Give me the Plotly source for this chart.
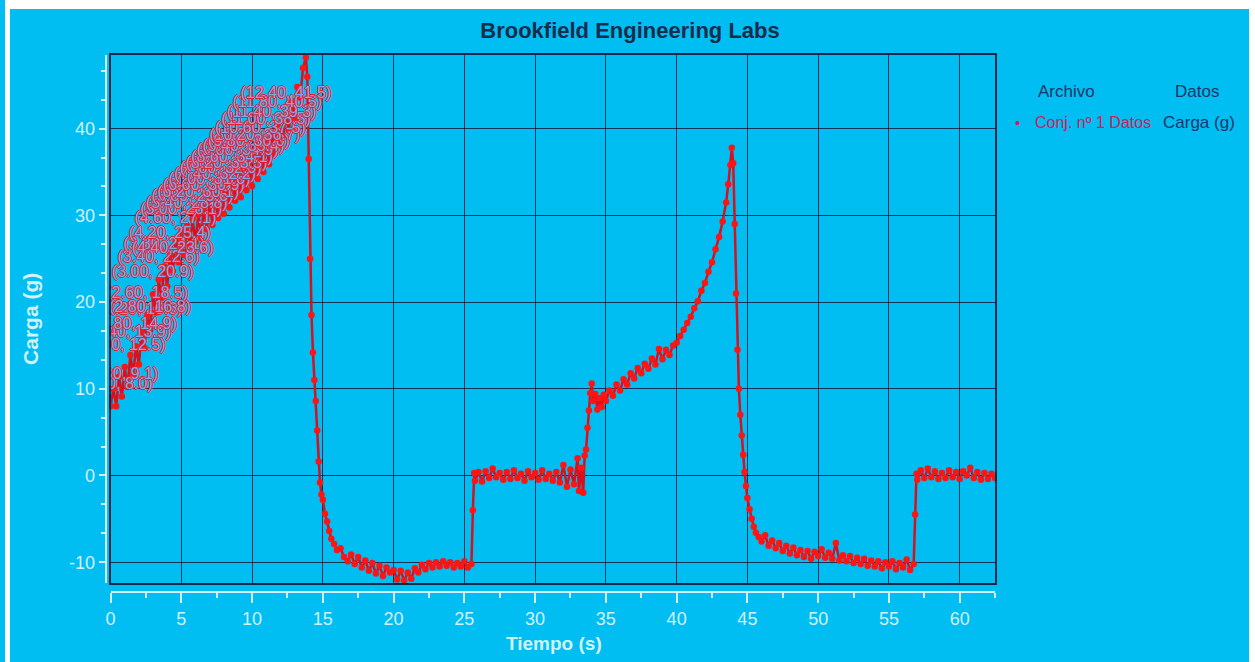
import plotly.graph_objects as go

# ---- Carga (g) frente a Tiempo (s), Conj. nº 1 Datos ----
# Rampa inicial de carga
t_subida = [0.0, 0.2, 0.4, 0.6, 0.8, 1.0, 1.2, 1.4, 1.6, 1.8,
            2.0, 2.2, 2.4, 2.6, 2.8, 3.0, 3.2, 3.4, 3.6, 3.8,
            4.0, 4.2, 4.4, 4.6, 4.8, 5.0, 5.2, 5.4, 5.6, 5.8,
            6.0, 6.2, 6.4, 6.6, 6.8, 7.0, 7.2, 7.4, 7.6, 7.8,
            8.0, 8.2, 8.4, 8.6, 8.8, 9.0, 9.2, 9.4, 9.6, 9.8,
            10.0, 10.2, 10.4, 10.6, 10.8, 11.0, 11.2, 11.4, 11.6, 11.8,
            12.0, 12.2, 12.4, 12.6, 12.8, 13.0, 13.2, 13.4, 13.6, 13.8]
c_subida = [8.0, 10.0, 8.0, 11.4, 9.1, 12.5, 10.2, 13.9, 11.6, 14.9,
            12.8, 16.6, 14.7, 18.5, 16.8, 20.9, 18.8, 22.6, 20.5, 24.1,
            21.8, 25.4, 23.6, 27.1, 24.6, 28.1, 25.4, 28.8, 26.5, 29.6,
            26.9, 30.1, 27.4, 30.9, 28.4, 31.6, 28.9, 32.2, 29.7, 32.9,
            30.2, 33.5, 30.9, 34.1, 31.7, 34.9, 32.1, 35.4, 32.9, 36.0,
            33.4, 36.7, 34.2, 37.5, 35.0, 38.5, 35.9, 39.3, 37.1, 40.5,
            38.1, 39.2, 41.5, 39.8, 43.2, 41.2, 44.8, 43.6, 47.0, 48.2]

# Descarga y meseta negativa
t_caida1 = [13.9, 14.0, 14.1, 14.2, 14.3, 14.4, 14.5, 14.6, 14.7, 14.8,
            14.9, 15.0, 15.15, 15.3, 15.45, 15.6, 15.8, 16.0, 16.25, 16.5,
            16.75, 17.0, 17.25, 17.5, 17.75, 18.0, 18.25, 18.5, 18.75, 19.0,
            19.25, 19.5, 19.75, 20.0, 20.25, 20.5, 20.75, 21.0, 21.25, 21.5,
            21.75, 22.0, 22.25, 22.5, 22.75, 23.0, 23.25, 23.5, 23.75, 24.0,
            24.25, 24.5, 24.75, 25.0, 25.25, 25.5]
c_caida1 = [46.0, 36.5, 25.0, 18.5, 14.2, 11.0, 8.6, 5.2, 1.6, -0.8,
            -2.2, -2.8, -4.4, -5.3, -6.4, -7.3, -7.9, -8.6, -8.4, -9.4,
            -9.9, -9.1, -10.2, -9.4, -10.6, -9.8, -11.0, -10.1, -11.3, -10.4,
            -11.6, -10.6, -11.2, -10.9, -12.0, -11.0, -12.1, -11.2, -11.9, -10.7,
            -11.2, -10.3, -10.8, -10.1, -10.6, -10.0, -10.5, -9.9, -10.4, -10.0,
            -10.6, -10.1, -10.5, -9.9, -10.6, -10.2]

# Retorno a cero
t_cero1 = [25.6, 25.7, 25.75, 26.0, 26.25, 26.5, 26.75, 27.0, 27.25, 27.5,
           27.75, 28.0, 28.25, 28.5, 28.75, 29.0, 29.25, 29.5, 29.75, 30.0,
           30.25, 30.5, 30.75, 31.0, 31.25, 31.5, 31.75, 32.0, 32.25, 32.5,
           32.75, 33.0, 33.1, 33.25, 33.4, 33.5]
c_cero1 = [-4.0, 0.3, -0.6, 0.4, -0.7, 0.5, -0.3, 0.8, -0.2, 0.3,
           -0.5, 0.4, -0.4, 0.6, -0.3, 0.2, -0.6, 0.5, -0.2, 0.3,
           -0.5, 0.6, -0.4, 0.2, -0.6, 0.4, -0.8, 1.2, -1.3, 0.7,
           -1.0, 2.0, -1.8, 0.9, -2.0, 2.3]

# Segunda rampa de carga
t_subida2 = [33.6, 33.7, 33.8, 33.9, 34.0, 34.1, 34.25, 34.4, 34.55, 34.7,
             34.85, 35.0, 35.25, 35.5, 35.75, 36.0, 36.25, 36.5, 36.75, 37.0,
             37.25, 37.5, 37.75, 38.0, 38.25, 38.5, 38.75, 39.0, 39.25, 39.5,
             39.75, 40.0, 40.25, 40.5, 40.75, 41.0, 41.25, 41.5, 41.75, 42.0,
             42.25, 42.5, 42.75, 43.0, 43.25, 43.5, 43.65, 43.8, 43.9]
c_subida2 = [3.0, 5.5, 7.5, 9.5, 10.6, 8.6, 9.4, 7.6, 8.9, 7.9,
             9.3, 8.6, 9.8, 9.2, 10.5, 9.8, 11.1, 10.5, 11.8, 11.2,
             12.4, 11.8, 12.9, 12.3, 13.5, 12.8, 14.6, 13.4, 14.5, 13.9,
             15.0, 15.3, 16.1, 16.8, 17.6, 18.3, 19.3, 20.1, 21.3, 22.2,
             23.5, 24.6, 26.1, 27.5, 29.3, 31.5, 33.6, 35.8, 37.8]

# Segunda descarga
t_caida2 = [44.0, 44.1, 44.2, 44.3, 44.4, 44.5, 44.6, 44.7, 44.8, 44.9,
            45.0, 45.15, 45.3, 45.45, 45.6, 45.8, 46.0, 46.25, 46.5, 46.75,
            47.0, 47.25, 47.5, 47.75, 48.0, 48.25, 48.5, 48.75, 49.0, 49.25,
            49.5, 49.75, 50.0, 50.25, 50.5, 50.75, 51.0, 51.25, 51.5, 51.75,
            52.0, 52.25, 52.5, 52.75, 53.0, 53.25, 53.5, 53.75, 54.0, 54.25,
            54.5, 54.75, 55.0, 55.25, 55.5, 55.75, 56.0, 56.25, 56.5, 56.75]
c_caida2 = [36.0, 29.0, 21.0, 14.5, 10.0, 7.0, 4.6, 2.4, 0.4, -1.2,
            -2.6, -3.9, -5.0, -5.9, -6.6, -7.1, -7.6, -6.9, -8.1, -7.5,
            -8.4, -7.8, -8.7, -8.1, -9.0, -8.3, -9.2, -8.6, -9.4, -8.7,
            -9.6, -8.8, -9.3, -8.5, -9.5, -8.9, -9.6, -7.8, -9.8, -9.2,
            -9.9, -9.3, -10.1, -9.5, -10.2, -9.6, -10.4, -9.8, -10.5, -9.9,
            -10.7, -10.0, -10.5, -9.9, -10.8, -10.1, -10.6, -9.7, -10.9, -10.2]

# Retorno final a cero
t_cero2 = [56.85, 56.95, 57.0, 57.25, 57.5, 57.75, 58.0, 58.25, 58.5, 58.75,
           59.0, 59.25, 59.5, 59.75, 60.0, 60.25, 60.5, 60.75, 61.0, 61.25,
           61.5, 61.75, 62.0, 62.25, 62.5]
c_cero2 = [-4.5, 0.2, -0.5, 0.6, -0.3, 0.8, -0.2, 0.5, -0.4, 0.3,
           -0.3, 0.6, -0.2, 0.4, -0.4, 0.5, 0.0, 0.9, -0.3, 0.4,
           -0.5, 0.3, -0.4, 0.2, -0.3]

# Instantes con etiqueta (t, carga)
t_etiquetas = [0.4, 0.8, 1.0, 1.4, 1.8, 2.2, 2.6, 2.8, 3.0, 3.4,
               3.8, 4.2, 4.4, 4.6, 5.0, 5.4, 5.8, 6.2, 6.6, 7.0,
               7.4, 7.8, 8.2, 8.6, 9.0, 9.4, 9.8, 10.2, 10.6, 11.0,
               11.4, 11.8, 12.4]

x_ticks = [0, 5, 10, 15, 20, 25, 30, 35, 40, 45, 50, 55, 60]
y_ticks = [-10, 0, 10, 20, 30, 40]
y_ticktext = ["-10", "0", "10", "20", "30", "40"]

tiempo = t_subida + t_caida1 + t_cero1 + t_subida2 + t_caida2 + t_cero2
carga = c_subida + c_caida1 + c_cero1 + c_subida2 + c_caida2 + c_cero2

etq_c = [c_subida[t_subida.index(t)] for t in t_etiquetas]
etq_txt = [f"({t:.2f}, {c:.1f})" for t, c in zip(t_etiquetas, etq_c)]

W, H = 1255, 662
BG = "#00bef2"
GRID = "rgba(16,38,72,0.9)"
LIGHT = "#d2f1ff"
NAVY = "#1b2b4c"
FONT = "Liberation Sans, Arial, sans-serif"

# plot area in pixels
PX_L, PX_R, PY_T, PY_B = 106, 994, 55, 583
dom_x = [PX_L / W, PX_R / W]
dom_y = [(H - PY_B) / H, (H - PY_T) / H]

fig = go.Figure()

fig.add_trace(go.Scatter(
    x=tiempo, y=carga, mode="lines+markers",
    line=dict(color="#d8101e", width=2.5),
    marker=dict(color="#ff1414", size=6.5, line=dict(width=0)),
    name="Conj. nº 1 Datos", showlegend=False, hoverinfo="x+y",
))

fig.add_trace(go.Scatter(
    x=t_etiquetas, y=etq_c, mode="markers+text", text=etq_txt,
    textposition="top center",
    marker=dict(size=20, color="rgba(0,0,0,0)"),
    textfont=dict(family=FONT, size=16, color="#7fa8e6",
                  shadow="1px 0 0 #e8202e, -1px 0 0 #e8202e, 0 1px 0 #e8202e, 0 -1px 0 #e8202e"),
    showlegend=False, hoverinfo="skip", cliponaxis=True,
))

# carrier for the offset axes
fig.add_trace(go.Scatter(x=[None], y=[None], xaxis="x2", yaxis="y2",
                         showlegend=False, hoverinfo="skip"))

fig.update_layout(
    width=W, height=H,
    margin=dict(l=0, r=0, t=0, b=0),
    paper_bgcolor=BG, plot_bgcolor=BG,
    title=dict(text="Brookfield Engineering Labs", x=0.5, xref="paper",
               y=1 - 30 / H, yanchor="middle", xanchor="center",
               font=dict(family=FONT, size=22, color=NAVY, weight="bold")),
    xaxis=dict(domain=dom_x, range=[0, 62.5], tickvals=x_ticks,
               showticklabels=False, ticks="", showgrid=True, gridcolor=GRID,
               gridwidth=1, zeroline=False, showline=True, linecolor="#10284a",
               linewidth=2, mirror=True),
    yaxis=dict(domain=dom_y, range=[-12.4, 48.5], tickvals=y_ticks,
               showticklabels=False, ticks="", showgrid=True, gridcolor=GRID,
               gridwidth=1, zeroline=False, showline=True, linecolor="#10284a",
               linewidth=2, mirror=True),
    xaxis2=dict(overlaying="x", anchor="free", position=(H - 592) / H,
                domain=dom_x, range=[0, 62.5], tickvals=x_ticks,
                showgrid=False, zeroline=False, showline=True,
                linecolor=LIGHT, linewidth=2, ticks="outside", ticklen=10,
                tickwidth=1.5, tickcolor=LIGHT,
                minor=dict(dtick=2.5, tick0=0, ticks="outside", ticklen=5,
                           tickwidth=1.5, tickcolor=LIGHT, showgrid=False),
                tickfont=dict(family=FONT, size=18, color=LIGHT)),
    yaxis2=dict(overlaying="y", anchor="free", position=101 / W,
                domain=dom_y, range=[-12.4, 48.5], tickvals=y_ticks,
                ticktext=y_ticktext,
                showgrid=False, zeroline=False, showline=True,
                linecolor=LIGHT, linewidth=2, ticks="outside", ticklen=6,
                tickwidth=1.5, tickcolor=LIGHT,
                minor=dict(dtick=10 / 3, tick0=0, ticks="outside", ticklen=4,
                           tickwidth=1.5, tickcolor=LIGHT, showgrid=False),
                tickfont=dict(family=FONT, size=18, color=LIGHT)),
    showlegend=False,
)


def texto(txt, px, py, font, xanchor="center", angle=0):
    fig.add_annotation(text=txt, x=px / W, y=1 - py / H, xref="paper",
                       yref="paper", xanchor=xanchor, yanchor="middle",
                       showarrow=False, textangle=angle, font=font)


# axis titles
texto("<b>Tiempo (s)</b>", 551, 643, dict(family=FONT, size=19, color=LIGHT))
texto("<b>Carga (g)</b>", 26, 319, dict(family=FONT, size=21, color=LIGHT),
      angle=-90)

# legend block
leg_font = dict(family=FONT, size=17, color="#1c3566")
texto("Archivo", 1035, 92, leg_font, xanchor="left")
texto("Datos", 1221, 92, leg_font, xanchor="right")
texto("•", 1017, 122, dict(family=FONT, size=15, color="#d0205a"))
texto("Conj. nº 1 Datos", 1032, 122, dict(family=FONT, size=16, color="#d0205a"),
      xanchor="left")
texto("Carga (g)", 1237, 122, leg_font, xanchor="right")

# white page edges around the panel
for x0, x1, y0, y1 in [(0, 1, 1 - 9 / H, 1), (0, 5 / W, 0, 1), (1249 / W, 1, 0, 1)]:
    fig.add_shape(type="rect", xref="paper", yref="paper", x0=x0, x1=x1,
                  y0=y0, y1=y1, fillcolor="white", line=dict(width=0),
                  layer="above")

fig.write_html("out.html")
